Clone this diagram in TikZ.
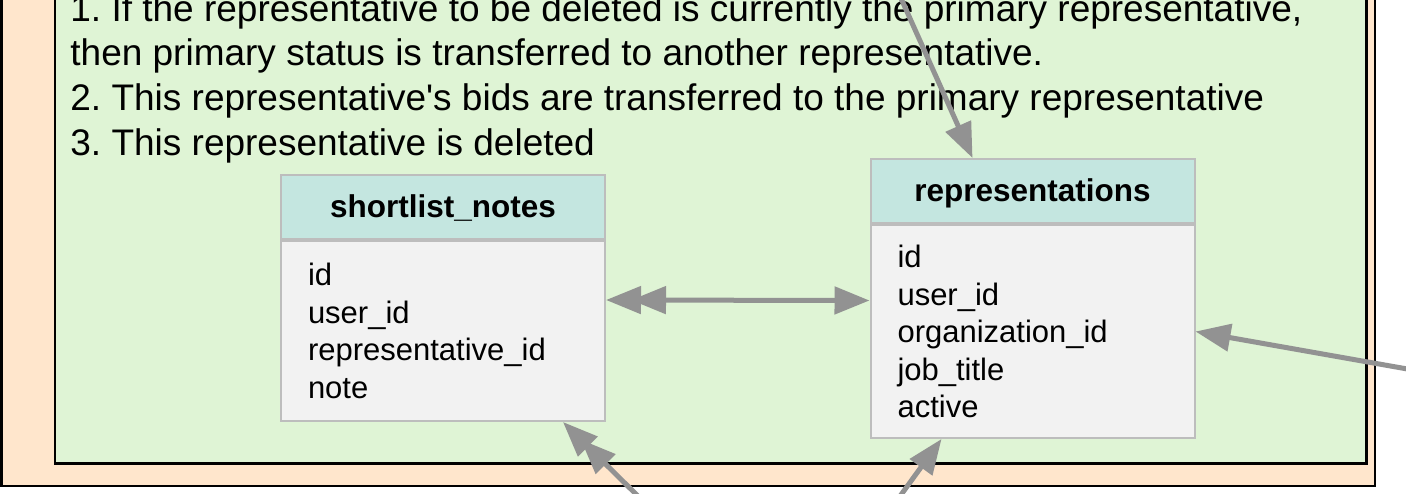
\documentclass[tikz,border=0pt]{standalone}
\usepackage{fontspec}
\setmainfont{Liberation Sans}
\usepackage{tikz}
\usetikzlibrary{arrows.meta}
\usetikzlibrary{positioning}
\usetikzlibrary{calc}
\frenchspacing
\definecolor{peach}{HTML}{FFE6CC}
\definecolor{palegreen}{HTML}{DFF4D5}
\definecolor{headfill}{HTML}{C4E6E0}
\definecolor{bodyfill}{HTML}{F2F2F2}
\definecolor{tableline}{HTML}{BDBDBD}
\definecolor{linkgray}{HTML}{929292}
\tikzset{%
  table head/.style={
    rectangle,
    draw=tableline,
    fill=headfill,
    line width=1pt,
    minimum width=162pt,
    minimum height=32pt,
    inner sep=0pt,
    text height=11.5pt,
    text depth=1.5pt,
    font=\fontsize{15.75}{19}\selectfont\bfseries
  },
  table body/.style={
    rectangle,
    draw=tableline,
    fill=bodyfill,
    line width=1pt,
    text width=135pt,
    inner xsep=13.5pt,
    inner ysep=0pt,
    align=left,
    font=\fontsize{15.5}{18.75}\selectfont
  },
  link/.style={
    draw=linkgray,
    line width=2.5pt
  },
}

\begin{document}
\begin{tikzpicture}[x=0.5pt,y=-0.5pt]
    \clip (0,0) rectangle (1406,493);
    \draw [fill=peach,line width=1.25pt] (1.5,-30) rectangle (1375,486);
    \draw [fill=palegreen,line width=1.25pt] (55,-30) rectangle (1366.5,463.5);

    \node (e) [anchor=north west,align=left,inner sep=0pt,
      font=\fontsize{18.5}{22.35}\selectfont] at (70,-6)
    {1. If the representative to be deleted is currently the primary representative,\\
     then primary status is transferred to another representative.\\
     2. This representative\textquotesingle s bids are transferred to the primary representative\\
     3. This representative is deleted};

    \node (a) [table head] at (443,207) {shortlist\_notes};
    \node (b) [table body,minimum height=90pt,below=0pt of a]
    {id\\user\_id\\representative\_id\\note};
    \node (c) [table head] at (1032.5,191) {representations};
    \node (d) [table body,minimum height=106.5pt,below=0pt of c]
    {id\\user\_id\\organization\_id\\job\_title\\active};

    \coordinate (p) at (891,-24);
    \coordinate (q) at (649,507);
    \coordinate (r) at (1430,373);
    \coordinate (s) at (882,521);

    \draw [link,{Triangle[length=17.5pt,width=13.5pt]Triangle[length=17.5pt,width=13.5pt,sep=-5pt]}-{Triangle[length=17.5pt,width=13.5pt]}]
      ($(b.east)+(0,-31)$) -- ($(d.west)+(0,-31)$);
    \draw [link,-{Triangle[length=17.5pt,width=13.5pt]}] (p) -- ($(c.north)+(-60,0)$);
    \draw [link,-{Triangle[length=17.5pt,width=13.5pt]}] (r) -- (d.east);
    \draw [link,-{Triangle[length=17.5pt,width=13.5pt,sep=-5pt]Triangle[length=17.5pt,width=13.5pt]}]
      (q) -- ($(b.south)+(120,0)$);
    \draw [link,-{Triangle[length=17.5pt,width=13.5pt]}] (s) -- ($(d.south)+(-91,0)$);
\end{tikzpicture}
\end{document}
